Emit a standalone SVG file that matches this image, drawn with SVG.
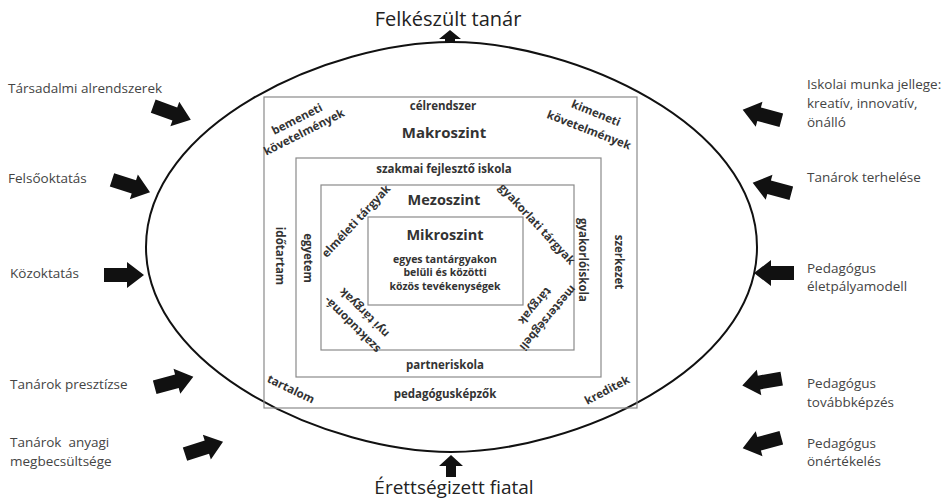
<svg xmlns="http://www.w3.org/2000/svg" width="950" height="499" viewBox="0 0 950 499">
<style>
.bg{fill:#fff}
.ell{fill:none;stroke:#111;stroke-width:2}
.box{fill:none;stroke:#8a8a8a;stroke-width:1.2}
.t{font-family:"Open Sans","Liberation Sans",sans-serif;fill:#333;font-weight:bold;font-size:11.5px;text-anchor:middle}
.lvl{font-size:15px}
.sub{font-size:14.5px}
.sm{font-size:10.5px}
.out{font-family:"Open Sans","Liberation Sans",sans-serif;fill:#444;font-size:13.5px}
.ttl{font-family:"Open Sans","Liberation Sans",sans-serif;fill:#222;text-anchor:middle}
.arw{fill:#111}
</style>
<defs>
<path id="ar" d="M-20,-7 H3 V-13 L20,0 L3,13 V7 H-20 Z"/>
</defs>
<rect class="bg" width="950" height="499"/>
<g id="ellipse"><path class="ell" d="M451,42 C329,42 146,124 146,247 C146,370 329,452 451,452 C573,452 757,370 757,247 C757,124 573,42 451,42 Z"/></g>
<g id="makro">
<rect class="box" x="264" y="97" width="373" height="311"/>
<text class="t" x="443" y="110">célrendszer</text>
<text class="t lvl" x="444" y="138">Makroszint</text>
<text class="t" transform="translate(297,119) rotate(-27)" dy="0.35em">bemeneti</text>
<text class="t" transform="translate(304,132) rotate(-27)" dy="0.35em">követelmények</text>
<text class="t" transform="translate(596,113) rotate(22)" dy="0.35em">kimeneti</text>
<text class="t" transform="translate(589,130) rotate(21)" dy="0.35em">követelmények</text>
<text class="t" transform="translate(280,256) rotate(90)" dy="0.35em">időtartam</text>
<text class="t" transform="translate(619,262) rotate(90)" dy="0.35em">szerkezet</text>
<text class="t" transform="translate(291,389) rotate(26)" dy="0.35em">tartalom</text>
<text class="t" transform="translate(607,390) rotate(-28)" dy="0.35em">kreditek</text>
<text class="t" x="445" y="398">pedagógusképzők</text>
</g>
<g id="szakmai">
<rect class="box" x="296" y="158" width="305" height="219"/>
<text class="t" x="444" y="173">szakmai fejlesztő iskola</text>
<text class="t" transform="translate(308,258) rotate(90)" dy="0.35em">egyetem</text>
<text class="t" transform="translate(583,260) rotate(90)" dy="0.35em">gyakorlóiskola</text>
<text class="t" x="445" y="369">partneriskola</text>
</g>
<g id="mezo">
<rect class="box" x="321" y="185" width="253" height="165"/>
<text class="t sub" x="444" y="205">Mezoszint</text>
<text class="t" transform="translate(356,221) rotate(-47)" dy="0.35em">elméleti tárgyak</text>
<text class="t" transform="translate(537,224) rotate(47)" dy="0.35em">gyakorlati tárgyak</text>
<text class="t" transform="translate(352,325) rotate(-135)" dy="0.35em">szaktudomá-</text>
<text class="t" transform="translate(364,313) rotate(-135)" dy="0.35em">nyi tárgyak</text>
<text class="t" transform="translate(548,318) rotate(130)" dy="0.35em">mesterségbeli</text>
<text class="t" transform="translate(535,306) rotate(130)" dy="0.35em">tárgyak</text>
</g>
<g id="mikro">
<rect class="box" x="368" y="217" width="155" height="88"/>
<text class="t sub" x="445" y="240">Mikroszint</text>
<text class="t sm" x="445" y="263">egyes tantárgyakon</text>
<text class="t sm" x="445" y="276">belüli és közötti</text>
<text class="t sm" x="445" y="290">közös tevékenységek</text>
</g>
<g id="titles">
<text class="ttl" x="448" y="26" style="font-size:20px">Felkészült tanár</text>
<text class="ttl" x="454" y="494" style="font-size:19px">Érettségizett fiatal</text>
</g>
<g id="left-labels">
<text class="out" x="8" y="93">Társadalmi alrendszerek</text>
<text class="out" x="8" y="183">Felsőoktatás</text>
<text class="out" x="10" y="278">Közoktatás</text>
<text class="out" x="10" y="389">Tanárok presztízse</text>
<text class="out" x="10" y="447" xml:space="preserve">Tanárok  anyagi</text>
<text class="out" x="10" y="466">megbecsültsége</text>
</g>
<g id="right-labels">
<text class="out" x="807" y="89">Iskolai munka jellege:</text>
<text class="out" x="807" y="108">kreatív, innovatív,</text>
<text class="out" x="807" y="127">önálló</text>
<text class="out" x="807" y="182">Tanárok terhelése</text>
<text class="out" x="807" y="273">Pedagógus</text>
<text class="out" x="807" y="291">életpályamodell</text>
<text class="out" x="807" y="388">Pedagógus</text>
<text class="out" x="807" y="407">továbbképzés</text>
<text class="out" x="807" y="448">Pedagógus</text>
<text class="out" x="807" y="466">önértékelés</text>
</g>
<g id="connectors" class="arw">
<path d="M450,30 L461,39 H455 V43 H445 V39 H439 Z"/>
<path d="M451,455 L463,466 H456 V477 H446 V466 H439 Z"/>
<use href="#ar" transform="translate(172,113) rotate(20)"/>
<use href="#ar" transform="translate(131,186) rotate(18)"/>
<use href="#ar" transform="translate(124,275)"/>
<use href="#ar" transform="translate(174,382) rotate(-15)"/>
<use href="#ar" transform="translate(204,448) rotate(-18)"/>
<use href="#ar" transform="translate(762,115) rotate(195)"/>
<use href="#ar" transform="translate(772,188) rotate(195)"/>
<use href="#ar" transform="translate(774,273) rotate(180)"/>
<use href="#ar" transform="translate(762,382) rotate(170)"/>
<use href="#ar" transform="translate(762,443) rotate(165)"/>
</g>
</svg>
